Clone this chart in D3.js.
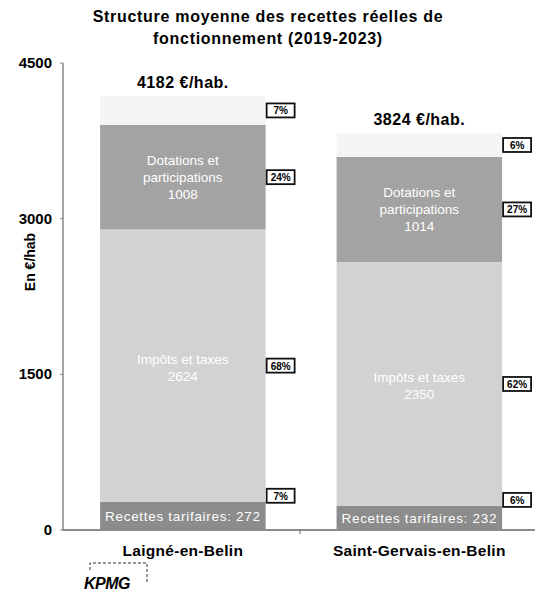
<!DOCTYPE html>
<html>
<head>
<meta charset="utf-8">
<script src="https://cdn.jsdelivr.net/npm/d3@7"></script>
<style>
  body { margin: 0; background: #fff; }
  text { font-family: "Liberation Sans", Arial, sans-serif; }
</style>
</head>
<body>
<div id="viz"></div>
<script>
// donnees
const communes = ["Laigné-en-Belin", "Saint-Gervais-en-Belin"];
const totaux = [4182, 3824];
const recettesTarifaires = [272, 232];
const impotsTaxes = [2624, 2350];
const dotations = [1008, 1014];
const autres = [278, 228];
const pctRecettes = ["7%", "6%"];
const pctImpots = ["68%", "62%"];
const pctDotations = ["24%", "27%"];
const pctAutres = ["7%", "6%"];
const yTicks = [0, 1500, 3000, 4500];

const width = 535, height = 594;
const svg = d3.select("#viz").append("svg")
  .attr("width", width).attr("height", height);

const y = d3.scaleLinear().domain([0, 4500]).range([530, 63]);
const x = d3.scaleBand().domain(communes).range([63, 535])
  .paddingInner(0.3).paddingOuter(0.148).align(0.53);

// titre
[["Structure moyenne des recettes réelles de", 22], ["fonctionnement (2019-2023)", 44]].forEach(d => {
  svg.append("text").attr("x", 268).attr("y", d[1]).attr("text-anchor", "middle")
    .attr("font-size", "16px").attr("font-weight", "bold").attr("letter-spacing", "0.7px").text(d[0]);
});

// axes
svg.append("line").attr("x1", 63).attr("x2", 63).attr("y1", y(4500)).attr("y2", y(0))
  .attr("stroke", "#888").attr("stroke-width", 1.5);
svg.append("line").attr("x1", 63).attr("x2", 535).attr("y1", y(0)).attr("y2", y(0))
  .attr("stroke", "#666").attr("stroke-width", 1.5);
yTicks.forEach(t => {
  svg.append("line").attr("x1", 60).attr("x2", 63).attr("y1", y(t)).attr("y2", y(t)).attr("stroke", "#888");
  svg.append("text").attr("x", 52).attr("y", y(t) + 5).attr("text-anchor", "end")
    .attr("font-size", "15px").attr("font-weight", "bold").text(t);
});
svg.append("line").attr("x1", 300).attr("x2", 300).attr("y1", y(0)).attr("y2", y(0) + 4).attr("stroke", "#666");
svg.append("text").attr("transform", "translate(35,262) rotate(-90)").attr("text-anchor", "middle")
  .attr("font-size", "14px").attr("font-weight", "bold").text("En €/hab");

const segs = [
  { vals: recettesTarifaires, pct: pctRecettes, color: "#8c8c8c" },
  { vals: impotsTaxes, pct: pctImpots, color: "#d2d2d2" },
  { vals: dotations, pct: pctDotations, color: "#a3a3a3" },
  { vals: autres, pct: pctAutres, color: "#f5f5f5" }
];

communes.forEach((c, i) => {
  const x0 = x(c), bw = x.bandwidth();
  let base = 0;
  segs.forEach((s, k) => {
    const v = s.vals[i];
    const top = base + v;
    svg.append("rect").attr("x", x0).attr("y", y(top)).attr("width", bw)
      .attr("height", y(base) - y(top)).attr("fill", s.color);
    const cy = k === 0 ? y(top) - 6 : (y(top) + y(base)) / 2;
    const pg = svg.append("g").attr("transform", `translate(${x0 + bw + 15},${cy})`);
    pg.append("rect").attr("x", -14).attr("y", -7).attr("width", 28).attr("height", 14)
      .attr("fill", "#fff").attr("stroke", "#111").attr("stroke-width", 1.8);
    pg.append("text").attr("y", 4).attr("text-anchor", "middle").attr("font-size", "10px")
      .attr("font-weight", "bold").text(s.pct[i]);
    const mid = (y(top) + y(base)) / 2;
    if (k === 0) {
      svg.append("text").attr("x", x0 + bw / 2).attr("y", mid + 5).attr("text-anchor", "middle")
        .attr("fill", "#fff").attr("font-size", "13.5px").attr("letter-spacing", "0.7px")
        .text("Recettes tarifaires: " + v);
    } else if (k === 1) {
      ["Impôts et taxes", v].forEach((l, j) => {
        svg.append("text").attr("x", x0 + bw / 2).attr("y", mid - 2 + j * 17).attr("text-anchor", "middle")
          .attr("fill", "#fff").attr("font-size", "13.5px").text(l);
      });
    } else if (k === 2) {
      ["Dotations et", "participations", v].forEach((l, j) => {
        svg.append("text").attr("x", x0 + bw / 2).attr("y", mid - 12 + j * 17).attr("text-anchor", "middle")
          .attr("fill", "#fff").attr("font-size", "13.5px").text(l);
      });
    }
    base = top;
  });
  svg.append("text").attr("x", x0 + bw / 2).attr("y", y(totaux[i]) - 8).attr("text-anchor", "middle")
    .attr("font-size", "16px").attr("font-weight", "bold").attr("letter-spacing", "0.5px")
    .text(totaux[i] + " €/hab.");
  svg.append("text").attr("x", x0 + bw / 2).attr("y", 556).attr("text-anchor", "middle")
    .attr("font-size", "15.5px").attr("font-weight", "bold").attr("letter-spacing", "0.3px").text(c);
});

// logo KPMG
svg.append("path").attr("d", "M90,570 L90,563 L147,563 L147,584")
  .attr("fill", "none").attr("stroke", "#333").attr("stroke-dasharray", "3,2");
svg.append("text").attr("x", 84).attr("y", 589).attr("font-size", "16px").attr("font-weight", "bold")
  .attr("font-style", "italic").attr("letter-spacing", "-0.5px").text("KPMG");
</script>
</body>
</html>
